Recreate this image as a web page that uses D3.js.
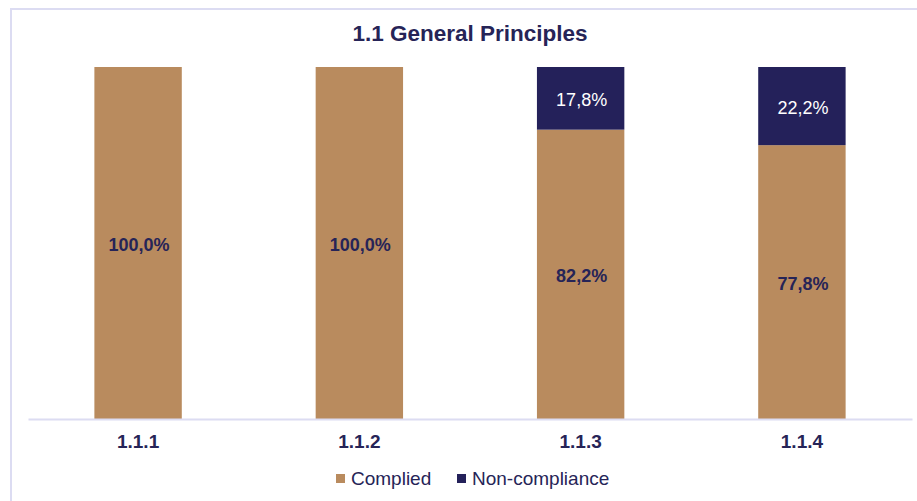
<!DOCTYPE html>
<html>
<head>
<meta charset="utf-8">
<script src="https://cdn.jsdelivr.net/npm/d3@7"></script>
<style>
  body { margin: 0; background: #fff; }
  svg { display: block; font-family: "Liberation Sans", Arial, sans-serif; }
</style>
</head>
<body>
<svg id="chart" width="917" height="501"></svg>
<script>
const categories = ['1.1.1', '1.1.2', '1.1.3', '1.1.4'];
const complied = [100.0, 100.0, 82.2, 77.8];
const nonCompliance = [0, 0, 17.8, 22.2];
const seriesNames = ['Complied', 'Non-compliance'];
const colors = ['#B98B5E', '#24215A'];

const svg = d3.select('#chart');
const W = 917, H = 501;
const margin = { top: 67, bottom: 82, left: 28, right: 5 };

// chart frame
svg.append('rect')
  .attr('x', 11).attr('y', 9)
  .attr('width', W).attr('height', H)
  .attr('fill', '#fff')
  .attr('stroke', '#DCDCF2')
  .attr('stroke-width', 2);

svg.append('text')
  .attr('x', 470).attr('y', 41)
  .attr('text-anchor', 'middle')
  .attr('font-size', 22.5).attr('font-weight', 'bold')
  .attr('fill', '#262457')
  .text('1.1 General Principles');

const x = d3.scaleBand()
  .domain(categories)
  .range([margin.left, W - margin.right])
  .paddingInner(0.605)
  .paddingOuter(0.3);

const y = d3.scaleLinear()
  .domain([0, 100])
  .range([H - margin.bottom, margin.top]);

const rows = categories.map((c, i) => ({ cat: c, Complied: complied[i], 'Non-compliance': nonCompliance[i] }));
const stacked = d3.stack().keys(seriesNames)(rows);

const groups = svg.selectAll('g.series')
  .data(stacked)
  .enter().append('g')
  .attr('class', 'series')
  .attr('fill', (d, i) => colors[i]);

groups.selectAll('rect')
  .data(d => d.filter(s => s[1] - s[0] > 0))
  .enter().append('rect')
  .attr('x', d => x(d.data.cat))
  .attr('width', x.bandwidth())
  .attr('y', d => y(d[1]))
  .attr('height', d => y(d[0]) - y(d[1]));

// value labels
const fmt = v => d3.format('.1f')(v).replace('.', ',') + '%';
stacked.forEach((s, si) => {
  svg.selectAll('text.lbl' + si)
    .data(s.filter(d => d[1] - d[0] > 0))
    .enter().append('text')
    .attr('class', 'lbl' + si)
    .attr('x', d => x(d.data.cat) + x.bandwidth() / 2 + 1)
    .attr('y', d => (y(d[0]) + y(d[1])) / 2)
    .attr('dy', '0.45em')
    .attr('text-anchor', 'middle')
    .attr('font-size', 18)
    .attr('font-weight', si === 0 ? 'bold' : 'normal')
    .attr('fill', si === 0 ? '#262457' : '#fff')
    .text(d => fmt(d[1] - d[0]));
});

// x axis
const xAxis = svg.append('g')
  .attr('transform', `translate(0,${H - margin.bottom})`)
  .call(d3.axisBottom(x).tickSize(0).tickPadding(16));
xAxis.select('.domain').attr('stroke', '#DCDCF2').attr('stroke-width', 2);
xAxis.selectAll('text')
  .attr('font-size', 19).attr('font-weight', 'bold')
  .attr('fill', '#262457')
  .attr('font-family', '"Liberation Sans", Arial, sans-serif');

// legend
const legend = svg.append('g');
const legendItems = [
  { name: seriesNames[0], color: colors[0], x: 336 },
  { name: seriesNames[1], color: colors[1], x: 457 }
];
legendItems.forEach(it => {
  legend.append('rect')
    .attr('x', it.x).attr('y', 474)
    .attr('width', 9).attr('height', 9)
    .attr('fill', it.color);
  legend.append('text')
    .attr('x', it.x + 15).attr('y', 485)
    .attr('font-size', 19)
    .attr('fill', '#262457')
    .text(it.name);
});
</script>
</body>
</html>
